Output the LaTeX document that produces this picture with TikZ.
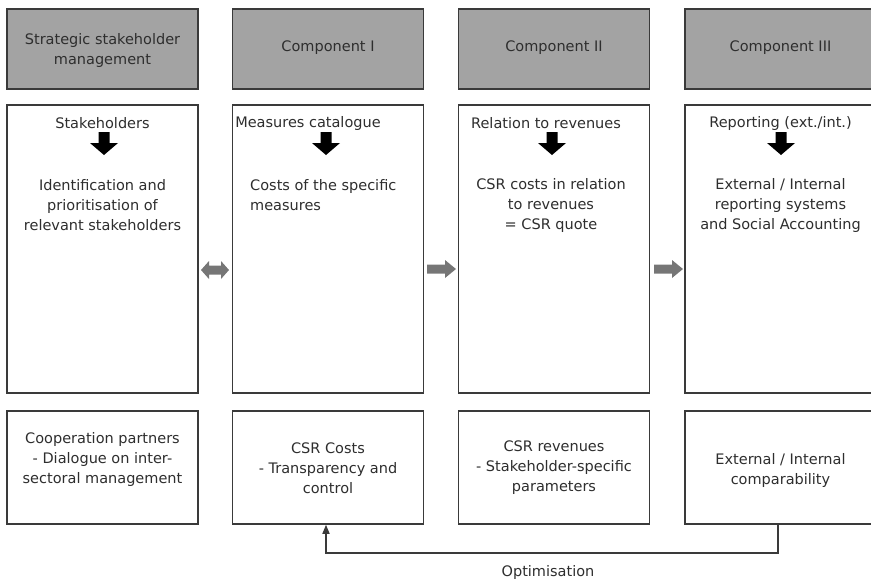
\documentclass[tikz,border=0pt]{standalone}
\usepackage{fontspec}
\setmainfont{DejaVu Sans}
\usetikzlibrary{arrows.meta}
\definecolor{hdrgray}{HTML}{A3A3A3}
\definecolor{edgegray}{HTML}{3A3A3A}
\definecolor{arrgray}{HTML}{767676}
\definecolor{txt}{HTML}{2E2E2E}
\begin{document}
\begin{tikzpicture}[x=1pt,y=-1pt,
  box/.style={draw=edgegray, line width=1.5pt, inner sep=0pt, fill=white},
  hdr/.style={box, fill=hdrgray, minimum width=191pt, minimum height=80pt},
  midbox/.style={box, minimum width=191pt, minimum height=288pt},
  lowbox/.style={box, minimum width=191pt, minimum height=113pt},
  lbl/.style={text=txt, font=\fontsize{14.5}{20}\selectfont, align=center, inner sep=0pt},
  fbline/.style={draw=edgegray, line width=1.5pt, -{Triangle[length=9pt,width=7pt]}},
  darrow/.pic={\fill[black] (-5.5,0) -- (5.5,0) -- (5.5,11) -- (14,11) -- (0,23) -- (-14,11) -- (-5.5,11) -- cycle;},
  rarrow/.pic={\fill[arrgray] (0,-4.5) -- (18,-4.5) -- (18,-9) -- (29,0) -- (18,9) -- (18,4.5) -- (0,4.5) -- cycle;},
  lrarrow/.pic={\fill[arrgray] (-14,0) -- (-6,-9) -- (-6,-4.5) -- (6,-4.5) -- (6,-9) -- (14,0) -- (6,9) -- (6,4.5) -- (-6,4.5) -- (-6,9) -- cycle;},
 ]
\useasboundingbox (0,0) rectangle (871,582);

% header row
\node[hdr] (h1) at (102.5,49) {};
\node[hdr] (h2) at (328,49) {};
\node[hdr] (h3) at (554,49) {};
\node[hdr] (h4) at (780.5,49) {};
\node[lbl] (h1t) at (102.5,50) {Strategic stakeholder\\management};
\node[lbl] (h2t) at (328,48) {Component I};
\node[lbl] (h3t) at (554,48) {Component II};
\node[lbl] (h4t) at (780.5,48) {Component III};

% middle row
\node[midbox] (m1) at (102.5,249) {};
\node[midbox] (m2) at (328,249) {};
\node[midbox] (m3) at (554,249) {};
\node[midbox] (m4) at (780.5,249) {};

\node[lbl] (m1a) at (102.5,123) {Stakeholders};
\node[lbl] (m2a) at (308,123) {Measures catalogue};
\node[lbl] (m3a) at (546,123) {Relation to revenues};
\node[lbl] (m4a) at (780.5,123) {Reporting (ext./int.)};

\pic at (104,132) {darrow};
\pic at (326,132) {darrow};
\pic at (552,132) {darrow};
\pic at (781,132) {darrow};

\node[lbl] (m1b) at (102.5,205) {Identification and\\prioritisation of\\relevant stakeholders};
\node[lbl, align=left, anchor=west] (m2b) at (250,195) {Costs of the specific\\measures};
\node[lbl] (m3b) at (551,205) {CSR costs in relation\\to revenues\\= CSR quote};
\node[lbl] (m4b) at (780.5,205) {External / Internal\\reporting systems\\and Social Accounting};

% arrows between the middle boxes
\pic at (215,270) {lrarrow};
\pic at (427,269) {rarrow};
\pic at (654,269) {rarrow};

% bottom row
\node[lowbox] (b1) at (102.5,467.5) {};
\node[lowbox] (b2) at (328,467.5) {};
\node[lowbox] (b3) at (554,467.5) {};
\node[lowbox] (b4) at (780.5,467.5) {};

\node[lbl] (b1t) at (102.5,459) {Cooperation partners\\- Dialogue on inter-\\sectoral management};
\node[lbl] (b2t) at (328,468) {CSR Costs\\- Transparency and\\control};
\node[lbl] (b3t) at (554,468) {CSR revenues\\- Stakeholder-specific\\parameters};
\node[lbl] (b4t) at (780.5,470) {External / Internal\\comparability};

% optimisation feedback loop
\coordinate (fbR) at (778,553);
\coordinate (fbL) at (326,553);
\draw[fbline] (b4.south -| fbR) -- (fbR) -- (fbL) -- (b2.south -| fbL);
\node[lbl] (opt) at (548,572) {Optimisation};
\end{tikzpicture}
\end{document}
